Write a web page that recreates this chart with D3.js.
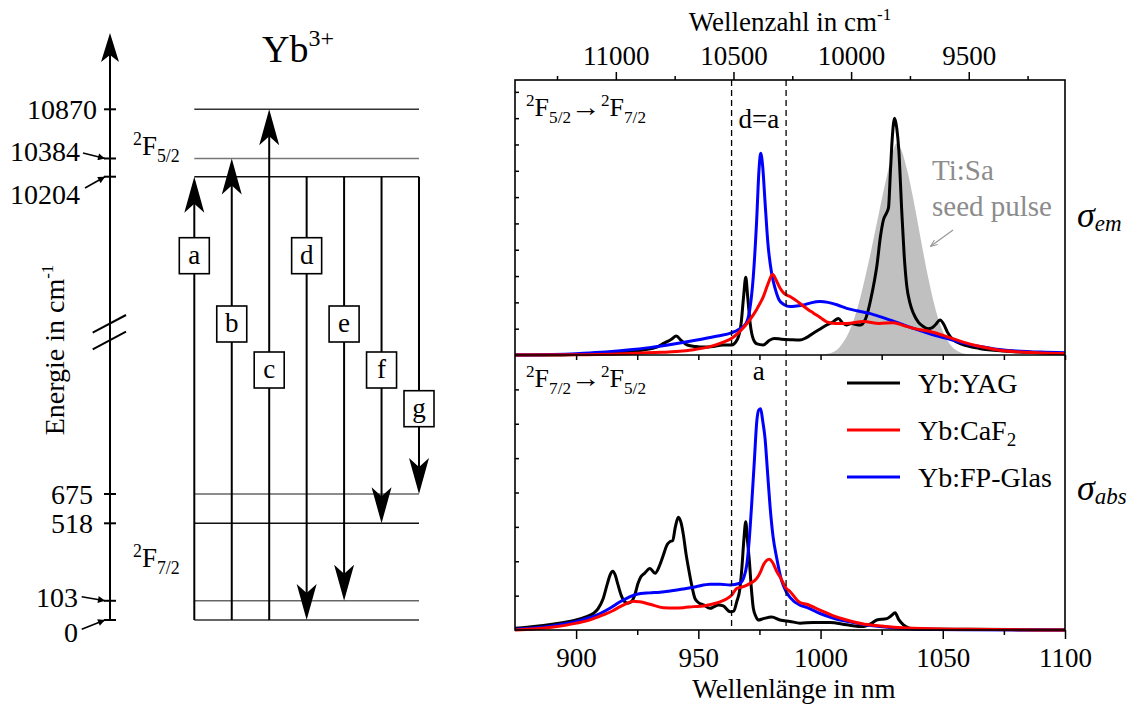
<!DOCTYPE html>
<html>
<head>
<meta charset="utf-8">
<script src="https://cdn.jsdelivr.net/npm/d3@7"></script>
<style>
  body { margin: 0; background: #fff; }
  svg { font-family: "Liberation Serif", "Times New Roman", serif; }
</style>
</head>
<body>
<svg id="chart" width="1134" height="708"></svg>
<script>
// ---- data ----
// emission cross sections, arbitrary units, [wavelength nm, value]
var emYAG = [[875,0],[890,0],[900,0.02],[910,0.06],[920,0.12],[928,0.2],[933,0.3],[936,0.45],[939,0.6],[941,0.72],[943,0.55],[945.5,0.38],[949,0.32],[952,0.3],[956,0.32],[960,0.38],[963.5,0.38],[966,0.6],[967.5,1.2],[968.5,2.2],[969.4,2.95],[970.2,2.2],[971.2,1.2],[972.5,0.6],[974,0.42],[976.5,0.38],[979,0.55],[981,0.63],[984,0.6],[988,0.58],[991.5,0.57],[994,0.65],[997,0.83],[1000,1.0],[1002.5,1.14],[1005,1.25],[1007.3,1.39],[1009,1.22],[1010.5,1.14],[1012.8,1.2],[1014.5,1.16],[1016.2,1.14],[1018.2,1.33],[1019.5,1.7],[1020.5,2.1],[1022,2.8],[1023,3.36],[1024.5,4.5],[1025.7,5.13],[1027,5.4],[1027.8,5.6],[1028.6,7.0],[1029.3,8.2],[1030.3,9.0],[1031.2,8.6],[1032,7.8],[1033.2,5.5],[1034.2,3.8],[1035.3,2.6],[1036.5,2.0],[1038,1.58],[1040,1.25],[1042,1.08],[1044,1.0],[1045.5,1.03],[1047,1.15],[1048.9,1.33],[1050.5,1.15],[1052,0.85],[1054.4,0.57],[1058,0.4],[1065,0.25],[1075,0.15],[1085,0.1],[1100,0.05]];
var emFP = [[875,0],[890,0.02],[900,0.05],[910,0.1],[920,0.18],[930,0.28],[940,0.42],[950,0.58],[958,0.72],[963.5,0.84],[967,1.0],[969.5,1.2],[971,1.7],[972.5,3.0],[973.8,5.0],[974.8,7.0],[975.5,7.67],[976.3,7.2],[977.3,5.8],[978.5,4.2],[980,3.1],[981.5,2.5],[983,2.1],[985,1.92],[987.5,1.84],[990,1.86],[993,1.9],[996,1.98],[999.8,2.03],[1003,2.0],[1007,1.9],[1010.7,1.77],[1015,1.68],[1020,1.58],[1024.3,1.46],[1030,1.28],[1038,1.01],[1045,0.8],[1051.6,0.63],[1058,0.46],[1065.3,0.32],[1072,0.22],[1079,0.16],[1090,0.11],[1100,0.09]];
var emCaF2 = [[875,0],[900,0.01],[920,0.05],[935,0.1],[941,0.13],[948,0.2],[954.8,0.32],[960,0.48],[963.7,0.64],[967,0.9],[971,1.33],[974,1.75],[976.6,2.22],[978.5,2.7],[980.4,3.07],[981.8,2.85],[983.4,2.55],[985,2.35],[987.5,2.22],[991.6,1.96],[995,1.72],[997,1.6],[1000,1.42],[1002.5,1.26],[1006,1.2],[1010.7,1.2],[1017.5,1.27],[1024,1.2],[1029.8,1.23],[1034,1.12],[1038,1.01],[1044.8,0.89],[1051.6,0.7],[1058,0.5],[1065.3,0.32],[1072,0.2],[1079,0.13],[1090,0.08],[1100,0.06]];
var seedPulse = [[998,0],[1002,0.03],[1006,0.15],[1009,0.45],[1012,0.95],[1015,1.75],[1018,2.85],[1021,4.1],[1024,5.45],[1027,6.75],[1029.5,7.7],[1031.2,8.05],[1033,7.8],[1035.5,7.0],[1038,5.9],[1041,4.4],[1044,2.95],[1047,1.75],[1050,0.9],[1053,0.4],[1056,0.15],[1060,0.03],[1064,0]];

// absorption cross sections, arbitrary units
var absYAG = [[875,0.05],[880,0.08],[886.6,0.13],[895,0.22],[900,0.29],[904,0.38],[907,0.48],[909,0.62],[911,0.9],[912.8,1.35],[914,1.62],[915,1.71],[916,1.6],[917,1.35],[918.5,1.0],[919.5,0.85],[921,0.78],[922.5,0.82],[924,1.02],[925.3,1.35],[926.5,1.55],[928,1.65],[930.2,1.79],[932.3,1.65],[934,1.85],[935.7,2.18],[937,2.45],[938.4,2.57],[939.5,2.6],[940.6,3.0],[941.8,3.28],[943,3.1],[943.9,2.76],[945,2.2],[946,1.79],[947.3,1.3],[948.6,0.92],[950,0.8],[952.1,0.73],[954.8,0.63],[956.5,0.68],[958.2,0.73],[960.2,0.7],[963,0.53],[964.5,0.55],[965.7,0.82],[967,1.2],[967.8,1.79],[968.6,2.6],[969.4,3.15],[970.1,2.6],[970.9,1.99],[971.7,1.2],[972.5,0.63],[973.5,0.4],[974.5,0.29],[976.6,0.33],[980,0.38],[983.4,0.29],[987.5,0.25],[991.6,0.2],[997,0.22],[1003.9,0.22],[1010.7,0.15],[1017.5,0.1],[1021,0.2],[1023,0.29],[1027.1,0.33],[1029,0.42],[1030.5,0.5],[1032,0.3],[1033.9,0.15],[1036,0.06],[1038,0.03],[1060,0.02],[1100,0]];
var absFP = [[875,0.02],[890,0.12],[900.2,0.25],[905,0.35],[909.8,0.48],[914,0.64],[918,0.82],[921.5,0.95],[924.8,1.04],[930,1.08],[934.3,1.1],[939,1.14],[943.9,1.19],[949,1.26],[954.8,1.33],[959,1.33],[963,1.31],[967,1.36],[968.7,1.55],[969.8,1.89],[970.8,2.6],[971.8,3.63],[972.9,4.9],[973.9,6.06],[974.7,6.4],[975.5,6.44],[976.3,6.1],[977.3,5.57],[978.3,4.6],[979.3,3.63],[980.6,2.7],[982.1,2.08],[984,1.45],[985.9,1.12],[987.5,0.95],[991.6,0.72],[994.3,0.66],[999.8,0.48],[1005,0.35],[1010.7,0.25],[1017,0.17],[1024.3,0.1],[1030,0.06],[1038,0.03],[1060,0.01],[1100,0]];
var absCaF2 = [[875,0],[890,0.08],[900.2,0.2],[906,0.3],[911.1,0.44],[915,0.56],[918,0.68],[921,0.78],[923.5,0.84],[926,0.82],[930.2,0.75],[935.7,0.65],[940,0.64],[943.9,0.65],[948,0.68],[952.1,0.7],[955.5,0.75],[958.9,0.82],[961.5,0.9],[963.7,1.02],[965.7,1.21],[968.4,1.26],[971,1.35],[973.9,1.5],[975.5,1.7],[976.6,1.89],[979,2.06],[980.5,1.95],[982.1,1.7],[983.4,1.55],[985.9,1.22],[987.5,1.12],[991.6,0.8],[994.3,0.75],[999.8,0.58],[1005,0.42],[1010.7,0.29],[1017,0.18],[1024.3,0.12],[1030,0.08],[1038,0.05],[1060,0.02],[1100,0]];

var seriesNames = ['Yb:YAG', 'Yb:CaF2', 'Yb:FP-Glas'];
var seriesColors = ['#000000', '#ff0000', '#0000ff'];
var windowNm = [963.6, 985.9];          // dashed lines
var nmTicks = [900, 950, 1000, 1050, 1100];
var nmMinor = [925, 975, 1025, 1075];
var wnTicks = [11000, 10500, 10000, 9500];
var wnMinor = [11250, 10750, 10250, 9750, 9250];

// Yb3+ level scheme, energies in cm-1
var levelE = [0, 103, 518, 675, 10204, 10384, 10870];
var transLabels = ['a', 'b', 'c', 'd', 'e', 'f', 'g'];
var transFrom = [0, 0, 0, 10204, 10204, 10204, 10204];
var transTo = [10204, 10384, 10870, 0, 103, 518, 675];

// ---- layout ----
var svg = d3.select('#chart');
svg.append('rect').attr('width', 1134).attr('height', 708).attr('fill', '#fff');
var defs = svg.append('defs');

var L = 515, R = 1065, T = 80, M = 355, B = 630;
var x = d3.scaleLinear().domain([875, 1100]).range([L, R]);
var xTop = d3.scaleLinear().domain([1e7 / 875, 1e7 / 1100]).range([L, R]);
var yEm = d3.scaleLinear().domain([0, 10.45]).range([M, T]);
var yAbs = d3.scaleLinear().domain([0, 8]).range([B, M]);

// gray seed pulse
svg.append('path').datum(seedPulse)
    .attr('fill', '#c0c0c0')
    .attr('d', d3.area().curve(d3.curveMonotoneX)
        .x(function (d) { return x(d[0]); })
        .y0(yEm(0))
        .y1(function (d) { return yEm(d[1]); }));

// curves, black first then blue then red on top
function drawSet(sets, y) {
    var line = d3.line().curve(d3.curveMonotoneX)
        .x(function (d) { return x(d[0]); })
        .y(function (d) { return y(d[1]); });
    [0, 2, 1].forEach(function (i) {
        svg.append('path').datum(sets[i])
            .attr('fill', 'none')
            .attr('stroke', seriesColors[i])
            .attr('stroke-width', 3)
            .attr('stroke-linejoin', 'round')
            .attr('d', line);
    });
}
drawSet([emYAG, emCaF2, emFP], yEm);
drawSet([absYAG, absCaF2, absFP], yAbs);

// dashed window
svg.selectAll('line.win').data(windowNm).enter().append('line')
    .attr('x1', function (d) { return x(d); }).attr('x2', function (d) { return x(d); })
    .attr('y1', T).attr('y2', B)
    .attr('stroke', '#000').attr('stroke-width', 1.3).attr('stroke-dasharray', '6,4');

// frames
svg.append('rect').attr('x', L).attr('y', T).attr('width', R - L).attr('height', B - T)
    .attr('fill', 'none').attr('stroke', '#000').attr('stroke-width', 1.6);
svg.append('line').attr('x1', L).attr('x2', R).attr('y1', M).attr('y2', M)
    .attr('stroke', '#000').attr('stroke-width', 1.6);

// axes
function styleAxis(g) {
    g.select('.domain').remove();
    g.selectAll('line').attr('stroke-width', 1.5);
    g.selectAll('text').attr('font-size', 27).attr('font-family', '"Liberation Serif", serif').attr('fill', '#000');
}
svg.append('g').attr('transform', 'translate(0,' + B + ')')
    .call(d3.axisBottom(x).tickValues(nmTicks).tickSize(9).tickPadding(9).tickFormat(d3.format('d')))
    .call(styleAxis);
svg.append('g').attr('transform', 'translate(0,' + B + ')')
    .call(d3.axisBottom(x).tickValues(nmMinor).tickSize(5).tickFormat(''))
    .call(styleAxis);
svg.append('g').attr('transform', 'translate(0,' + M + ')')
    .call(d3.axisBottom(x).tickValues(nmTicks.concat(nmMinor)).tickSize(5).tickFormat(''))
    .call(styleAxis);
svg.append('g').attr('transform', 'translate(0,' + T + ')')
    .call(d3.axisTop(xTop).tickValues(wnTicks).tickSize(8).tickPadding(7).tickFormat(d3.format('d')))
    .call(styleAxis);
svg.append('g').attr('transform', 'translate(0,' + T + ')')
    .call(d3.axisTop(xTop).tickValues(wnMinor).tickSize(4).tickFormat(''))
    .call(styleAxis);
svg.append('g').attr('transform', 'translate(' + L + ',0)')
    .call(d3.axisRight(yEm).tickValues(d3.range(1, 11)).tickSize(4).tickFormat(''))
    .call(styleAxis);
svg.append('g').attr('transform', 'translate(' + L + ',0)')
    .call(d3.axisRight(yAbs).tickValues(d3.range(1, 8)).tickSize(4).tickFormat(''))
    .call(styleAxis);

svg.append('text').attr('x', 794).attr('y', 698).attr('text-anchor', 'middle')
    .attr('font-size', 27).text('Wellenlänge in nm');
var wz = svg.append('text').attr('x', 790).attr('y', 31).attr('text-anchor', 'middle').attr('font-size', 27);
wz.append('tspan').text('Wellenzahl in cm');
wz.append('tspan').attr('font-size', 17).attr('dy', -11).text('-1');

// term labels: parts are [text, 'sup' | 'sub' | 'arrow' | '']
function termLabel(g, x0, yb, parts, size) {
    var t = g.append('text').attr('x', x0).attr('y', yb).attr('font-size', size);
    var cur = 0;
    parts.forEach(function (p) {
        var shift = p[1] === 'sup' ? -10 : p[1] === 'sub' ? 7 : 0;
        var s = t.append('tspan').attr('dy', shift - cur)
            .attr('font-size', (p[1] === 'sup' || p[1] === 'sub') ? size * 0.66 : size).text(p[0]);
        if (p[1] === 'arrow') {
            s.attr('textLength', 30).attr('lengthAdjust', 'spacingAndGlyphs');
        }
        cur = shift;
    });
    return t;
}
termLabel(svg, 526, 116, [['2', 'sup'], ['F', ''], ['5/2', 'sub'], ['\u2192', 'arrow'], ['2', 'sup'], ['F', ''], ['7/2', 'sub']], 26);
termLabel(svg, 526, 387, [['2', 'sup'], ['F', ''], ['7/2', 'sub'], ['\u2192', 'arrow'], ['2', 'sup'], ['F', ''], ['5/2', 'sub']], 26);
svg.append('text').attr('x', x(d3.mean(windowNm))).attr('y', 128).attr('text-anchor', 'middle')
    .attr('font-size', 27).text('d=a');
svg.append('text').attr('x', x(d3.mean(windowNm))).attr('y', 380).attr('text-anchor', 'middle')
    .attr('font-size', 27).text('a');

// seed pulse label
svg.append('text').attr('x', 932).attr('y', 180)
    .attr('font-size', 29).attr('fill', '#8c8c8c').text('Ti:Sa');
svg.append('text').attr('x', 932).attr('y', 216)
    .attr('font-size', 29).attr('fill', '#8c8c8c').text('seed pulse');
defs.append('marker').attr('id', 'grayhead').attr('viewBox', '0 0 10 10')
    .attr('refX', 9).attr('refY', 5).attr('markerWidth', 7).attr('markerHeight', 7).attr('orient', 'auto')
    .attr('markerUnits', 'userSpaceOnUse')
    .append('path').attr('d', 'M0,1 L10,5 L0,9').attr('fill', 'none').attr('stroke', '#999').attr('stroke-width', 1.5);
svg.append('line').attr('x1', 953).attr('y1', 230).attr('x2', 931).attr('y2', 246)
    .attr('stroke', '#999').attr('stroke-width', 1.2).attr('marker-end', 'url(#grayhead)');

// sigma labels
function sigma(yb, sub) {
    var t = svg.append('text').attr('x', 1077).attr('y', yb).attr('font-style', 'italic').attr('font-size', 36);
    t.append('tspan').text('\u03c3');
    t.append('tspan').attr('font-size', 23).attr('dy', 4).text(sub);
}
sigma(227, 'em');
sigma(500, 'abs');

// legend
var lg = svg.append('g');
[0, 1, 2].forEach(function (i, k) {
    var yy = 383 + k * 47;
    lg.append('line').attr('x1', 847).attr('x2', 900).attr('y1', yy).attr('y2', yy)
        .attr('stroke', seriesColors[i]).attr('stroke-width', 3);
    var t = lg.append('text').attr('x', 918).attr('y', yy + 10).attr('font-size', 28);
    var m = seriesNames[i].match(/^(.*?)(\d)$/);
    if (m) {
        t.append('tspan').text(m[1]);
        t.append('tspan').attr('font-size', 19).attr('dy', 6).text(m[2]);
    } else {
        t.text(seriesNames[i]);
    }
});

// ---- level scheme ----
var eLow = d3.scaleLinear().domain([0, 675]).range([620, 494]);
var eHigh = d3.scaleLinear().domain([10204, 10870]).range([176.7, 109.3]);
function ey(e) { return e < 5000 ? eLow(e) : eHigh(e); }
var AX = 110, lvlX0 = 194.3, lvlX1 = 419, step = 37.45;
var levelColor = { 0: '#666', 103: '#666', 518: '#111', 675: '#666', 10204: '#111', 10384: '#777', 10870: '#333' };

function arrowHead(g, cx, tipY, dir, w, h, notch) {
    // dir = -1 pointing up, +1 pointing down
    var b = tipY - dir * h, n = tipY - dir * notch;
    g.append('path').attr('fill', '#000')
        .attr('d', 'M' + cx + ',' + tipY + ' L' + (cx + w / 2) + ',' + b + ' L' + cx + ',' + n + ' L' + (cx - w / 2) + ',' + b + ' Z');
}

var lv = svg.append('g');
levelE.forEach(function (e) {
    lv.append('line').attr('x1', lvlX0).attr('x2', lvlX1).attr('y1', ey(e)).attr('y2', ey(e))
        .attr('stroke', levelColor[e]).attr('stroke-width', e === 0 ? 2 : 1.4);
});

// energy axis
lv.append('line').attr('x1', AX).attr('x2', AX).attr('y1', ey(0)).attr('y2', 50)
    .attr('stroke', '#000').attr('stroke-width', 2);
arrowHead(lv, AX, 33, -1, 18, 29, 22);
levelE.forEach(function (e) {
    lv.append('line').attr('x1', AX - 6).attr('x2', AX + 6).attr('y1', ey(e)).attr('y2', ey(e))
        .attr('stroke', '#000').attr('stroke-width', 2);
});
[[92.7, 332.7, 126, 315], [92.7, 349.3, 126, 331.7]].forEach(function (s) {
    lv.append('line').attr('x1', s[0]).attr('y1', s[1]).attr('x2', s[2]).attr('y2', s[3])
        .attr('stroke', '#000').attr('stroke-width', 2);
});

// energy labels; crowded ones are pushed aside with small pointers
var labelPos = {
    10870: [97, ey(10870), null],
    10384: [80, 151, [83, 153]],
    10204: [80, 194, [85, 188]],
    675: [93, ey(675), null],
    518: [93, ey(518), null],
    103: [78, 597, [81.7, 596.7]],
    0: [78, 632, [81.7, 629.3]]
};
defs.append('marker').attr('id', 'blackhead').attr('viewBox', '0 0 10 10')
    .attr('refX', 10).attr('refY', 5).attr('markerWidth', 9).attr('markerHeight', 7).attr('orient', 'auto')
    .attr('markerUnits', 'userSpaceOnUse')
    .append('path').attr('d', 'M0,0 L10,5 L0,10 Z').attr('fill', '#000');
levelE.forEach(function (e) {
    var p = labelPos[e];
    lv.append('text').attr('x', p[0]).attr('y', p[1]).attr('dy', '0.35em').attr('text-anchor', 'end')
        .attr('font-size', 28).text(d3.format('d')(e));
    if (p[2]) {
        lv.append('line').attr('x1', p[2][0]).attr('y1', p[2][1]).attr('x2', AX - 5).attr('y2', ey(e))
            .attr('stroke', '#000').attr('stroke-width', 1.6).attr('marker-end', 'url(#blackhead)');
    }
});
var et = lv.append('text').attr('transform', 'translate(64,350) rotate(-90)').attr('text-anchor', 'middle').attr('font-size', 28);
et.append('tspan').text('Energie in cm');
et.append('tspan').attr('font-size', 17).attr('dy', -11).text('-1');

// manifold labels and title
termLabel(lv, 133, 155, [['2', 'sup'], ['F', ''], ['5/2', 'sub']], 27);
termLabel(lv, 133, 567, [['2', 'sup'], ['F', ''], ['7/2', 'sub']], 27);
var ti = lv.append('text').attr('x', 262).attr('y', 62).attr('font-size', 38);
ti.append('tspan').text('Yb');
ti.append('tspan').attr('font-size', 24).attr('dy', -16).text('3+');

// transitions
var boxY = [255.7, 324, 370, 255.7, 324, 370, 408.7];
transLabels.forEach(function (lab, i) {
    var cx = lvlX0 + i * step;
    var y0 = ey(transFrom[i]), y1 = ey(transTo[i]);
    var dir = y1 < y0 ? -1 : 1;
    lv.append('line').attr('x1', cx).attr('x2', cx).attr('y1', y0).attr('y2', y1 - dir * 26)
        .attr('stroke', '#000').attr('stroke-width', 2);
    arrowHead(lv, cx, y1, dir, 20, 36, 27);
    lv.append('rect').attr('x', cx - 15).attr('y', boxY[i] - 18).attr('width', 30).attr('height', 36)
        .attr('fill', '#fff').attr('stroke', '#000').attr('stroke-width', 1.6);
    lv.append('text').attr('x', cx).attr('y', boxY[i]).attr('dy', '0.3em').attr('text-anchor', 'middle')
        .attr('font-size', 27).text(lab);
});
</script>
</body>
</html>
